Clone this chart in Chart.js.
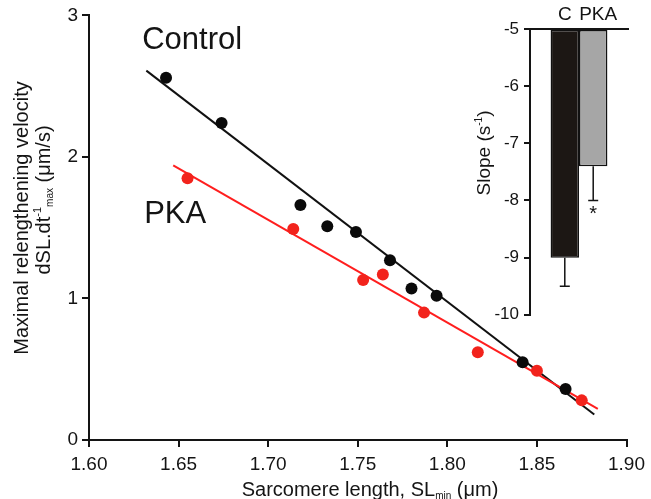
<!DOCTYPE html>
<html>
<head>
<meta charset="utf-8">
<script src="https://cdn.jsdelivr.net/npm/chart.js@4.4.1/dist/chart.umd.min.js"></script>
<style>
  body { margin: 0; background: #fff; }
  #wrap { position: relative; width: 651px; height: 499px; }
  #main { position: absolute; left: 0; top: 0; }
  #inset { position: absolute; left: 440px; top: 0; }
</style>
</head>
<body>
<div id="wrap">
  <canvas id="main" width="651" height="499"></canvas>
  <canvas id="inset" width="211" height="330"></canvas>
</div>
<script>
// sarcomere length (um) vs maximal relengthening velocity (um/s)
const slControl = [1.643, 1.674, 1.718, 1.733, 1.749, 1.768, 1.780, 1.794, 1.842, 1.866];
const velControl = [2.56, 2.24, 1.66, 1.51, 1.47, 1.27, 1.07, 1.02, 0.55, 0.36];
const slPka = [1.655, 1.714, 1.753, 1.764, 1.787, 1.817, 1.850, 1.875];
const velPka = [1.85, 1.49, 1.13, 1.17, 0.90, 0.62, 0.49, 0.28];

// regression lines, end points
const fitControlSl = [1.632, 1.882];
const fitControlVel = [2.61, 0.18];
const fitPkaSl = [1.647, 1.884];
const fitPkaVel = [1.94, 0.22];

const slTicks = [1.60, 1.65, 1.70, 1.75, 1.80, 1.85, 1.90];
const velTicks = [0, 1, 2, 3];

// slopes of the fits (mean, sem)
const groups = ['C', 'PKA'];
const slopeMean = [-9.0, -7.4];
const slopeSem = [0.5, 0.6];
const slopeTicks = [-10, -9, -8, -7, -6, -5];
const slopeBase = -5;

const FONT = "'Liberation Sans', Arial, sans-serif";
const INK = '#141414';
Chart.defaults.font.family = FONT;

const pts = (xs, ys) => xs.map((x, i) => ({ x: x, y: ys[i] }));

// draws a run of text pieces (normal / sup / sub) centred on cx, cy
function richText(ctx, parts, cx, cy, angle) {
    ctx.save();
    ctx.translate(cx, cy);
    ctx.rotate(angle || 0);
    ctx.fillStyle = INK;
    ctx.textBaseline = 'alphabetic';
    ctx.textAlign = 'left';
    let total = 0;
    parts.forEach(p => {
        ctx.font = p.size + 'px ' + FONT;
        p.w = ctx.measureText(p.t).width;
        total += p.w;
    });
    let x = -total / 2;
    parts.forEach(p => {
        ctx.font = p.size + 'px ' + FONT;
        ctx.fillText(p.t, x, 7 + (p.dy || 0));
        x += p.w;
    });
    ctx.restore();
}

const mainText = {
    id: 'mainText',
    afterDraw(chart) {
        const ctx = chart.ctx;
        const xs = chart.scales.x, ys = chart.scales.y;

        richText(ctx, [{ t: 'Maximal relengthening velocity', size: 20 }], 21, 218, -Math.PI / 2);
        richText(ctx, [
            { t: 'dSL.dt', size: 20 },
            { t: '-1', size: 11, dy: -9 },
            { t: 'max', size: 10, dy: 3 },
            { t: ' (\u03bcm/s)', size: 20 }
        ], 43, 200, -Math.PI / 2);

        richText(ctx, [
            { t: 'Sarcomere length, SL', size: 20 },
            { t: 'min', size: 10, dy: 3 },
            { t: ' (\u03bcm)', size: 20 }
        ], 370, 489, 0);

        ctx.save();
        ctx.fillStyle = INK;
        ctx.font = '31px ' + FONT;
        ctx.textAlign = 'left';
        ctx.textBaseline = 'alphabetic';
        ctx.fillText('Control', xs.getPixelForValue(1.6297), ys.getPixelForValue(2.766));
        ctx.fillText('PKA', xs.getPixelForValue(1.6308), ys.getPixelForValue(1.531));
        ctx.restore();
    }
};

new Chart(document.getElementById('main').getContext('2d'), {
    type: 'scatter',
    data: {
        datasets: [
            {
                label: 'Control',
                data: pts(slControl, velControl),
                backgroundColor: '#0a0a0a',
                borderWidth: 0,
                pointRadius: 6,
                order: 0
            },
            {
                label: 'PKA',
                data: pts(slPka, velPka),
                backgroundColor: '#f2231c',
                borderWidth: 0,
                pointRadius: 6,
                order: 0
            },
            {
                type: 'line',
                label: 'Control fit',
                data: pts(fitControlSl, fitControlVel),
                showLine: true,
                borderColor: '#111',
                borderWidth: 2,
                pointRadius: 0,
                order: 2
            },
            {
                type: 'line',
                label: 'PKA fit',
                data: pts(fitPkaSl, fitPkaVel),
                showLine: true,
                borderColor: '#ff1e1e',
                borderWidth: 2,
                pointRadius: 0,
                order: 1
            }
        ]
    },
    options: {
        responsive: false,
        animation: false,
        events: [],
        layout: { padding: { top: 15, right: 22, left: 0, bottom: 0 } },
        plugins: { legend: { display: false }, tooltip: { enabled: false } },
        scales: {
            x: {
                type: 'linear',
                min: 1.6,
                max: 1.9,
                afterBuildTicks: s => { s.ticks = slTicks.map(v => ({ value: v })); },
                afterFit: s => { s.height = 59; },
                ticks: {
                    callback: v => v.toFixed(2),
                    font: { size: 19 },
                    color: INK,
                    padding: 6,
                    maxRotation: 0,
                    autoSkip: false
                },
                grid: { drawOnChartArea: false, tickLength: 7, color: INK, lineWidth: 2 },
                border: { color: INK, width: 2 }
            },
            y: {
                min: 0,
                max: 3,
                afterBuildTicks: s => { s.ticks = velTicks.map(v => ({ value: v })); },
                afterFit: s => { s.width = 89; },
                ticks: { font: { size: 19 }, color: INK, padding: 4 },
                grid: { drawOnChartArea: false, tickLength: 7, color: INK, lineWidth: 2 },
                border: { color: INK, width: 2 }
            }
        }
    },
    plugins: [mainText]
});

// inset: error bars, group labels and axis title
const labelShift = [0, 5];
const insetText = {
    id: 'insetText',
    afterDatasetsDraw(chart) {
        const ctx = chart.ctx;
        const ys = chart.scales.y;
        ctx.save();
        ctx.strokeStyle = INK;
        ctx.lineWidth = 1.5;
        chart.data.datasets.forEach((ds, i) => {
            const bar = chart.getDatasetMeta(i).data[0];
            const y0 = ys.getPixelForValue(slopeMean[i]);
            const y1 = ys.getPixelForValue(slopeMean[i] - slopeSem[i]);
            ctx.beginPath();
            ctx.moveTo(bar.x, y0);
            ctx.lineTo(bar.x, y1);
            ctx.moveTo(bar.x - 5, y1);
            ctx.lineTo(bar.x + 5, y1);
            ctx.stroke();

            ctx.fillStyle = INK;
            ctx.font = '19px ' + FONT;
            ctx.textAlign = 'center';
            ctx.textBaseline = 'middle';
            ctx.fillText(ds.label, bar.x + labelShift[i], 15);

            if (i === 1) {
                ctx.font = '20px ' + FONT;
                ctx.textBaseline = 'top';
                ctx.fillText('*', bar.x, y1 + 4);
            }
        });
        ctx.restore();

        richText(ctx, [
            { t: 'Slope (s', size: 19 },
            { t: '-1', size: 10, dy: -8 },
            { t: ')', size: 19 }
        ], 43, 153, -Math.PI / 2);
    }
};

new Chart(document.getElementById('inset').getContext('2d'), {
    type: 'bar',
    data: {
        labels: [''],
        datasets: groups.map((g, i) => ({
            label: g,
            data: [slopeMean[i]],
            base: slopeBase,
            backgroundColor: i === 0 ? '#1c1714' : '#a6a6a6',
            borderColor: '#111',
            borderWidth: 1.5,
            borderSkipped: false,
            barPercentage: 1,
            categoryPercentage: 0.58
        }))
    },
    options: {
        responsive: false,
        animation: false,
        events: [],
        layout: { padding: { top: 0, right: 23, left: 0, bottom: 15 } },
        plugins: { legend: { display: false }, tooltip: { enabled: false } },
        scales: {
            x: {
                position: 'top',
                afterFit: s => { s.height = 29; },
                ticks: { display: false },
                grid: { drawOnChartArea: false, drawTicks: false },
                border: { color: INK, width: 2 }
            },
            y: {
                min: -10,
                max: -5,
                afterBuildTicks: s => { s.ticks = slopeTicks.map(v => ({ value: v })); },
                afterFit: s => { s.width = 90; },
                ticks: { font: { size: 17 }, color: INK, padding: 5 },
                grid: { drawOnChartArea: false, tickLength: 6, color: INK, lineWidth: 2 },
                border: { color: INK, width: 2 }
            }
        }
    },
    plugins: [insetText]
});
</script>
</body>
</html>
